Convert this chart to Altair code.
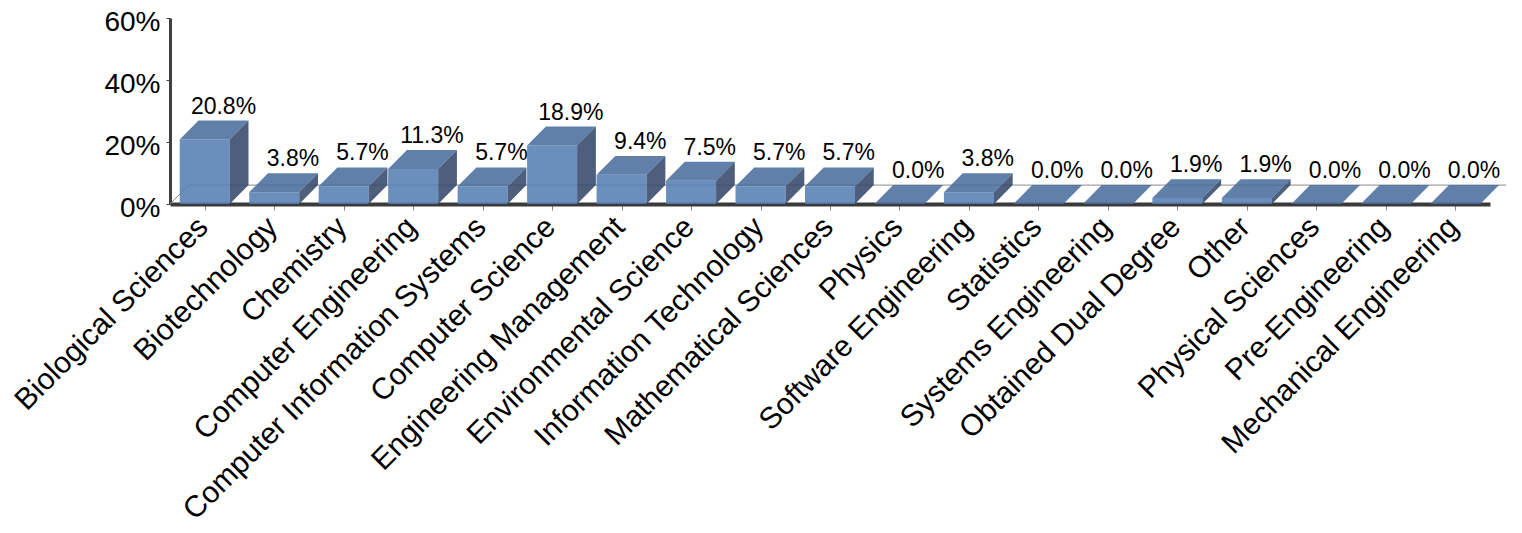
import altair as alt
import pandas as pd

categories = [
    "Biological Sciences", "Biotechnology", "Chemistry", "Computer Engineering",
    "Computer Information Systems", "Computer Science", "Engineering Management",
    "Environmental Science", "Information Technology", "Mathematical Sciences",
    "Physics", "Software Engineering", "Statistics", "Systems Engineering",
    "Obtained Dual Degree", "Other", "Physical Sciences", "Pre-Engineering",
    "Mechanical Engineering",
]
values = [20.8, 3.8, 5.7, 11.3, 5.7, 18.9, 9.4, 7.5, 5.7, 5.7,
          0.0, 3.8, 0.0, 0.0, 1.9, 1.9, 0.0, 0.0, 0.0]
y_ticks = [0, 20, 40, 60]

# pseudo-3D geometry (band units / percent units)
HALF = 0.36
DX = 0.27
DY = 6.1

FRONT = "#567fb4"
TOP = "#4a6e9e"
SIDE = "#34496a"
FONT = "Liberation Sans"

n = len(categories)
idx = list(range(n))

front = pd.DataFrame({
    "cat": categories,
    "x": [i - HALF for i in idx],
    "x2": [i + HALF for i in idx],
    "y": [0.0] * n,
    "y2": values,
})

top_rows = []
side_rows = []
for i, (c, v) in enumerate(zip(categories, values)):
    a, b = i - HALF, i + HALF
    top_rows += [
        {"cat": c, "x": a, "y": v, "y2": v},
        {"cat": c, "x": a + DX, "y": v, "y2": v + DY},
        {"cat": c, "x": b, "y": v, "y2": v + DY},
        {"cat": c, "x": b + DX, "y": v + DY, "y2": v + DY},
    ]
    side_rows += [
        {"cat": c, "x": b, "y": 0.0, "y2": v},
        {"cat": c, "x": b + DX, "y": DY, "y2": v + DY},
    ]
top = pd.DataFrame(top_rows)
side = pd.DataFrame(side_rows)

labels = pd.DataFrame({
    "x": [i + DX for i in idx],
    "y": [v + DY for v in values],
    "t": [f"{v:.1f}%" for v in values],
})

floor = pd.DataFrame({
    "k": [0, 1, 2],
    "x": [-0.5, -0.5 + DX, n - 0.5 + DX],
    "y": [0.0, DY, DY],
})

label_expr = "[" + ",".join("'" + c + "'" for c in categories) + "][datum.value]"

xscale = alt.Scale(domain=[-0.5, n - 0.5], nice=False, zero=False)
yscale = alt.Scale(domain=[0, 60], nice=False)
xaxis = alt.Axis(
    values=idx, labelExpr=label_expr, title=None, grid=False,
    labelAngle=-45, labelAlign="right", labelBaseline="middle",
    labelFont=FONT, labelFontSize=30, labelColor="#000000", labelPadding=12,
    labelOffset=-2,
    labelOverlap=False, labelBound=False, labelFlush=False, labelLimit=0,
    domainColor="#3a3a3a", domainWidth=4, tickColor="#888888", tickSize=6,
    tickWidth=1,
)
yaxis = alt.Axis(
    values=y_ticks, labelExpr="datum.value + '%'", title=None, grid=False,
    labelFont=FONT, labelFontSize=28, labelColor="#000000", labelPadding=6,
    labelOffset=4, domainColor="#404040", domainWidth=3, tickColor="#404040",
    tickSize=4, tickWidth=1,
)


def X(field):
    return alt.X(field, type="quantitative", scale=xscale, axis=xaxis)


def Y(field):
    return alt.Y(field, type="quantitative", scale=yscale, axis=yaxis, stack=None)


floor_line = alt.Chart(floor).mark_line(color="#8a8a8a", strokeWidth=1).encode(
    x=X("x"), y=Y("y"), order="k:Q"
)

front_layer = alt.Chart(front).mark_rect(color=FRONT, opacity=0.88).encode(
    x=X("x"), x2="x2", y=Y("y"), y2="y2"
)

top_layer = alt.Chart(top).mark_area(color=TOP, opacity=0.88).encode(
    x=X("x"), y=Y("y"), y2="y2", detail="cat:N"
)

side_layer = alt.Chart(side).mark_area(color=SIDE, opacity=0.88).encode(
    x=X("x"), y=Y("y"), y2="y2", detail="cat:N"
)

text_layer = alt.Chart(labels).mark_text(
    font=FONT, fontSize=23, color="#000000", baseline="alphabetic", dy=-7
).encode(x=X("x"), y=Y("y"), text="t:N")

chart = alt.layer(
    floor_line, front_layer, top_layer, side_layer, text_layer
).properties(
    width=1320, height=186,
    autosize=alt.AutoSizeParams(type="none"),
    padding={"left": 162, "top": 10, "right": 16, "bottom": 320},
).configure_view(stroke=None)

chart.save("out.html", embed_options={"renderer": "svg", "actions": False})
